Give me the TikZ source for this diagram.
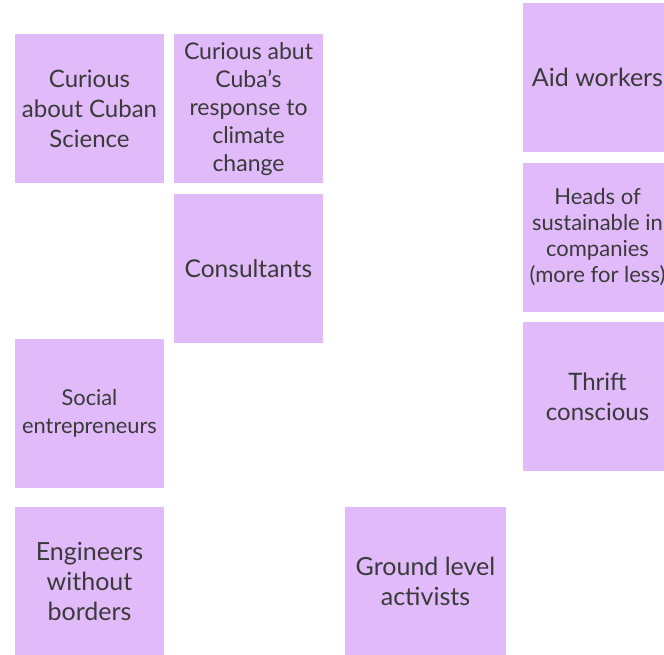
\documentclass[tikz,border=0pt]{standalone}
\usepackage{fontspec}
\setmainfont{Lato}
\usepackage{xcolor}
\definecolor{vlilac}{HTML}{E0BAF9}
\definecolor{vtext}{HTML}{3A3A3A}

\tikzset{
	note/.style={fill=vlilac, text=vtext, align=center, inner sep=0pt,
		minimum width=149pt, minimum height=149pt},
}

\begin{document}
\begin{tikzpicture}[x=1pt, y=-1pt]
		\useasboundingbox (0,0) rectangle (664,655);
		\clip (0,0) rectangle (664,655);
		% left column
		\node[note, font=\fontsize{24}{30}\selectfont] (science) at (89.5,109) {Curious\\about Cuban\\Science};
		\node[note, font=\fontsize{21.8}{28}\selectfont] (social) at (89.5,413.5) {Social\\entrepreneurs};
		\node[note, font=\fontsize{25}{30}\selectfont] (engineers) at (89.5,581.5) {Engineers\\without\\borders};
		% middle column
		\node[note, font=\fontsize{23}{28}\selectfont] (climate) at (248.5,109) {Curious abut\\Cuba's\\response to\\climate\\change};
		\node[note, font=\fontsize{24.5}{28}\selectfont] (consultants) at (248.5,268.5) {Consultants};
		\node[note, minimum width=161pt, font=\fontsize{25}{30}\selectfont] (activists) at (425.5,581.5) {Ground level\\activists};
		% right column, cut off by the edge
		\node[note, font=\fontsize{25}{30}\selectfont] (aid) at (597.5,77.5) {Aid workers};
		\node[note, font=\fontsize{22}{26}\selectfont] (heads) at (597.5,237.5) {Heads of\\sustainable in\\companies\\(more for less)};
		\node[note, font=\fontsize{24}{30}\selectfont] (thrift) at (597.5,396.5) {Thrift\\conscious};
	\end{tikzpicture}
\end{document}
